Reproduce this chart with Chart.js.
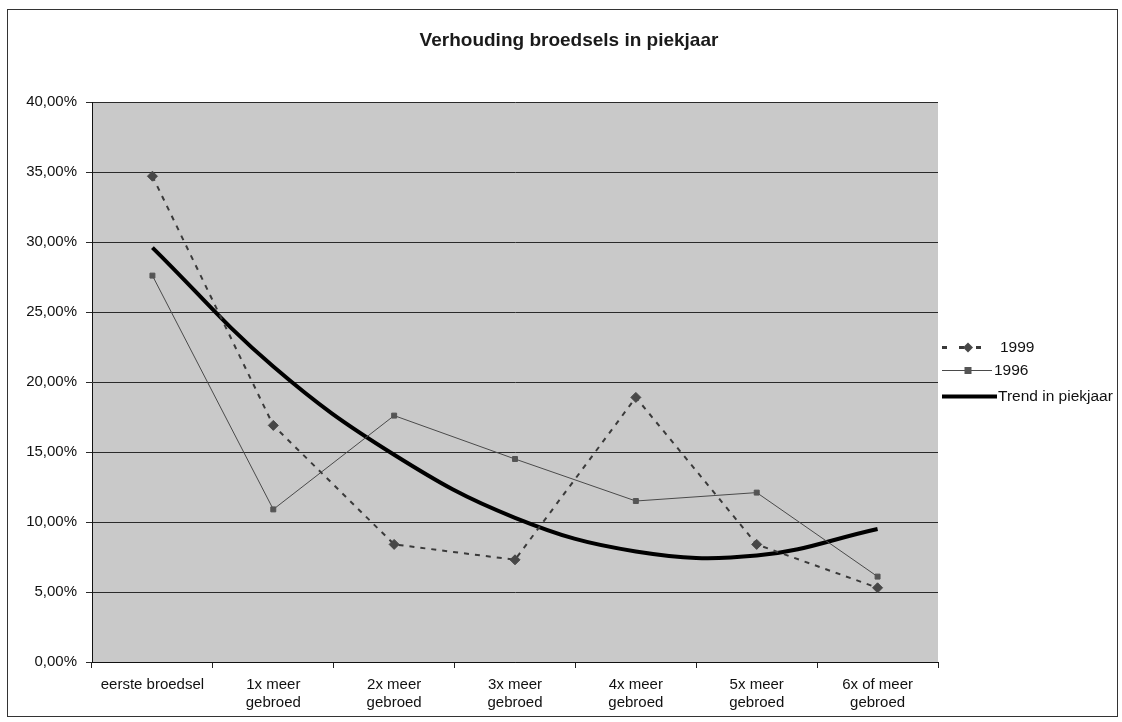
<!DOCTYPE html>
<html>
<head>
<meta charset="utf-8">
<script src="https://cdn.jsdelivr.net/npm/chart.js@4/dist/chart.umd.min.js"></script>
<style>
  html, body { margin: 0; padding: 0; background: #fff; }
  #wrap { width: 1122px; height: 722px; }
</style>
</head>
<body>
<div id="wrap"><canvas id="chart" width="1122" height="722"></canvas></div>
<script>
"use strict";

// Data (percent values)

var CATEGORIES = [
	"eerste broedsel",
	["1x meer", "gebroed"],
	["2x meer", "gebroed"],
	["3x meer", "gebroed"],
	["4x meer", "gebroed"],
	["5x meer", "gebroed"],
	["6x of meer", "gebroed"]
];
var VALUES_1999 = [34.7, 16.9, 8.4, 7.3, 18.9, 8.4, 5.3];
var VALUES_1996 = [27.6, 10.9, 17.6, 14.5, 11.5, 12.1, 6.1];
var VALUES_TREND = [29.6, 21.1, 14.8, 10.3, 7.9, 7.6, 9.5];
var Y_MIN = 0, Y_MAX = 40, Y_STEP = 5;

var TITLE = "Verhouding broedsels in piekjaar";
var FONT = "Arial, 'Liberation Sans', sans-serif";

function formatPercent(v) {
	return v.toFixed(2).replace(".", ",") + "%";
}

// grey plot background, outer frame and title
var backgroundPlugin = {
	id: "plotBackground",
	beforeDraw: function (chart) {
		var ctx = chart.ctx, a = chart.chartArea;
		ctx.save();
		ctx.fillStyle = "#fff";
		ctx.fillRect(0, 0, chart.width, chart.height);
		ctx.fillStyle = "#c9c9c9";
		ctx.fillRect(a.left, a.top, a.right - a.left, a.bottom - a.top);
		ctx.strokeStyle = "#333";
		ctx.lineWidth = 1;
		ctx.strokeRect(7.5, 9.5, 1110, 707);
		ctx.fillStyle = "#1a1a1a";
		ctx.font = "bold 19px " + FONT;
		ctx.textAlign = "center";
		ctx.textBaseline = "middle";
		ctx.fillText(TITLE, 569, 41);
		ctx.restore();
	}
};

// legend to the right, drawn like the spreadsheet one
var legendPlugin = {
	id: "sideLegend",
	afterDraw: function (chart) {
		var ctx = chart.ctx, x0 = 942, items = chart.data.datasets;
		var rows = [347, 370, 396];
		ctx.save();
		ctx.font = "15.5px " + FONT;
		ctx.textBaseline = "middle";
		for (var i = 0; i < items.length; i++) {
			var ds = items[i], y = rows[i] + 0.5, len = ds.legendLen;
			ctx.strokeStyle = ds.borderColor;
			ctx.lineWidth = ds.legendWidth;
			ctx.setLineDash(ds.legendDash || []);
			ctx.beginPath();
			ctx.moveTo(x0, y);
			ctx.lineTo(x0 + len, y);
			ctx.stroke();
			ctx.setLineDash([]);
			if (ds.pointRadius > 0) {
				var cx = x0 + 26, r = ds.pointRadius;
				ctx.fillStyle = ds.pointBackgroundColor;
				ctx.beginPath();
				if (ds.pointStyle === "rectRot") {
					ctx.moveTo(cx, y - r);
					ctx.lineTo(cx + r, y);
					ctx.lineTo(cx, y + r);
					ctx.lineTo(cx - r, y);
					ctx.closePath();
				} else {
					ctx.rect(cx - r, y - r, 2 * r, 2 * r);
				}
				ctx.fill();
			}
			ctx.fillStyle = "#111";
			ctx.fillText(ds.label, x0 + len + ds.legendGap, y);
		}
		ctx.restore();
	}
};

new Chart(document.getElementById("chart"), {
	type: "line",
	data: {
		labels: CATEGORIES,
		datasets: [
			{
				label: "1999",
				data: VALUES_1999,
				borderColor: "#3a3a3a",
				borderWidth: 2,
				borderDash: [5, 6],
				pointStyle: "rectRot",
				pointRadius: 5,
				pointBackgroundColor: "#474747",
				pointBorderColor: "#474747",
				pointBorderWidth: 1,
				tension: 0,
				legendLen: 46,
				legendWidth: 3,
				legendDash: [5, 12],
				legendGap: 12
			},
			{
				label: "1996",
				data: VALUES_1996,
				borderColor: "#4a4a4a",
				borderWidth: 1,
				pointStyle: "rect",
				pointRadius: 3.5,
				pointBackgroundColor: "#555",
				pointBorderColor: "#555",
				pointBorderWidth: 1,
				tension: 0,
				legendLen: 50,
				legendWidth: 1,
				legendGap: 2
			},
			{
				label: "Trend in piekjaar",
				data: VALUES_TREND,
				borderColor: "#000",
				borderWidth: 4,
				pointRadius: 0,
				tension: 0.4,
				legendLen: 55,
				legendWidth: 4,
				legendGap: 1
			}
		]
	},
	options: {
		responsive: false,
		animation: false,
		layout: { padding: { top: 102, right: 184, left: 0, bottom: 0 } },
		plugins: {
			legend: { display: false },
			tooltip: { enabled: false },
			title: { display: false }
		},
		scales: {
			x: {
				offset: true,
				grid: {
					offset: true,
					drawOnChartArea: false,
					drawTicks: true,
					tickLength: 6,
					color: "#222"
				},
				border: { display: true, color: "#111", width: 1 },
				ticks: {
					color: "#111",
					font: { family: FONT, size: 15, lineHeight: 1.2 },
					padding: 8,
					maxRotation: 0,
					autoSkip: false
				},
				afterFit: function (scale) { scale.height = 60; }
			},
			y: {
				min: Y_MIN,
				max: Y_MAX,
				grid: {
					color: "#2a2a2a",
					lineWidth: 1,
					drawTicks: true,
					tickLength: 6
				},
				border: { display: true, color: "#111", width: 1 },
				ticks: {
					stepSize: Y_STEP,
					color: "#111",
					font: { family: FONT, size: 15 },
					padding: 9,
					callback: function (v) { return formatPercent(v); }
				},
				afterFit: function (scale) { scale.width = 92; }
			}
		}
	},
	plugins: [backgroundPlugin, legendPlugin]
});
</script>
</body>
</html>
